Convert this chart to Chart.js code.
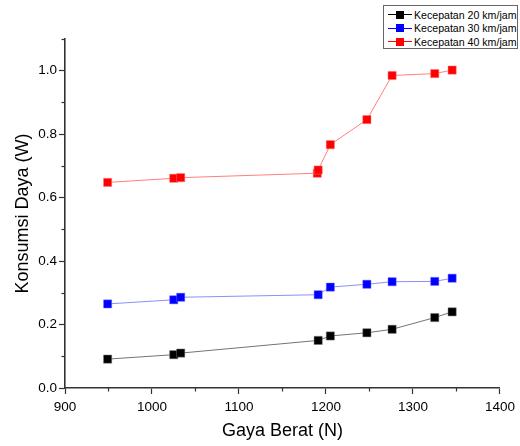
<!DOCTYPE html>
<html>
<head>
<meta charset="utf-8">
<script src="https://cdn.jsdelivr.net/npm/chart.js@4.4.0/dist/chart.umd.min.js"></script>
<style>
  html, body { margin: 0; padding: 0; background: #fff; }
  #wrap { position: relative; width: 520px; height: 446px; }
  #legend { position: absolute; left: 383px; top: 5px; width: 135px; height: 44px; border: 1px solid #666; background: #fff;
    font-family: "Liberation Sans", Arial, sans-serif; font-size: 10.6px; color: #000; padding: 2px 0 0 4px; box-sizing: border-box; white-space: nowrap; overflow: hidden; }
  .row { display: flex; align-items: center; height: 13.5px; }
  .sym { position: relative; width: 24px; height: 10px; margin-right: 2px; flex: none; }
  .sym .ln { position: absolute; left: 0; right: 0; top: 4.5px; height: 1px; }
  .sym .sq { position: absolute; left: 8px; top: 1px; width: 8px; height: 8px; }
</style>
</head>
<body>
<div id="wrap">
  <canvas id="c" width="520" height="446"></canvas>
  <div id="legend"></div>
</div>
<script>
const seriesLabels = ["Kecepatan 20 km/jam", "Kecepatan 30 km/jam", "Kecepatan 40 km/jam"];
const weights = [949, 1025, 1033, 1191, 1205, 1247, 1276, 1325, 1345];
const weights40 = [949, 1025, 1033, 1190, 1191, 1205, 1247, 1276, 1325, 1345];
const v20 = [0.091, 0.105, 0.110, 0.150, 0.164, 0.174, 0.185, 0.222, 0.240];
const v30 = [0.265, 0.278, 0.286, 0.294, 0.318, 0.327, 0.335, 0.336, 0.346];
const v40 = [0.648, 0.661, 0.663, 0.677, 0.687, 0.767, 0.846, 0.985, 0.991, 1.002];
const xTickLabels = ["900", "1000", "1100", "1200", "1300", "1400"];
const yTickLabels = ["0.0", "0.2", "0.4", "0.6", "0.8", "1.0"];

const markerColors = ["#000000", "#0000ff", "#ff0000"];
const lineColors = ["rgba(0,0,0,0.55)", "rgba(0,0,255,0.45)", "rgba(255,0,0,0.5)"];
const borderMarker = ["rgba(120,120,120,0.8)", "rgba(120,120,255,0.8)", "rgba(255,120,120,0.8)"];

function pts(xs, ys) { return xs.map((x, i) => ({ x: x, y: ys[i] })); }

const FONT = "'Liberation Sans', Arial, sans-serif";

const minorTicks = {
  id: 'minorTicks',
  afterDraw(chart) {
    const ctx = chart.ctx;
    const xs = chart.scales.x, ys = chart.scales.y;
    ctx.save();
    ctx.strokeStyle = '#333';
    ctx.lineWidth = 1.2;
    for (let v = 950; v < 1400; v += 100) {
      const px = Math.round(xs.getPixelForValue(v)) + 0.5;
      ctx.beginPath(); ctx.moveTo(px, ys.bottom); ctx.lineTo(px, ys.bottom + 3.5); ctx.stroke();
    }
    for (let v = 0.1; v < 1.1; v += 0.2) {
      const py = Math.round(ys.getPixelForValue(v)) + 0.5;
      ctx.beginPath(); ctx.moveTo(xs.left, py); ctx.lineTo(xs.left - 3.5, py); ctx.stroke();
    }
    ctx.restore();
  }
};

const data = {
  datasets: [
    { label: seriesLabels[0], data: pts(weights, v20) },
    { label: seriesLabels[1], data: pts(weights, v30) },
    { label: seriesLabels[2], data: pts(weights40, v40) }
  ].map((d, i) => Object.assign(d, {
    borderColor: lineColors[i],
    borderWidth: 1,
    backgroundColor: markerColors[i],
    pointBackgroundColor: markerColors[i],
    pointBorderColor: borderMarker[i],
    pointBorderWidth: 0.6,
    pointStyle: 'rect',
    pointRadius: 5.8,
    pointHoverRadius: 5.8,
    tension: 0,
    showLine: true,
    fill: false
  }))
};

new Chart(document.getElementById('c'), {
  type: 'scatter',
  data: data,
  plugins: [minorTicks],
  options: {
    responsive: false,
    animation: false,
    layout: { padding: { top: 39, right: 20, left: 8, bottom: 0 } },
    plugins: { legend: { display: false }, tooltip: { enabled: false } },
    scales: {
      x: {
        type: 'linear', min: 900, max: 1400,
        afterBuildTicks: s => { s.ticks = xTickLabels.map(t => ({ value: Number(t) })); },
        afterFit: s => { s.height = 58; },
        ticks: { color: '#000', font: { family: FONT, size: 13.5 }, padding: 5, maxRotation: 0,
          callback: v => xTickLabels.find(t => Number(t) === v) ?? '' },
        grid: { display: true, drawOnChartArea: false, drawTicks: true, tickLength: 6, tickColor: '#333', tickWidth: 1.2 },
        border: { display: true, color: '#333', width: 1.6 },
        title: { display: true, text: 'Gaya Berat (N)', color: '#000', font: { family: FONT, size: 18 }, padding: { top: 9 } }
      },
      y: {
        type: 'linear', min: 0, max: 1.1,
        afterBuildTicks: s => { s.ticks = yTickLabels.map(t => ({ value: Number(t) })); },
        afterFit: s => { s.width = 57; },
        ticks: { color: '#000', font: { family: FONT, size: 13.5 }, padding: 2,
          callback: v => yTickLabels.find(t => Math.abs(Number(t) - v) < 1e-9) ?? '' },
        grid: { display: true, drawOnChartArea: false, drawTicks: true, tickLength: 6, tickColor: '#333', tickWidth: 1.2 },
        border: { display: true, color: '#333', width: 1.6 },
        title: { display: true, text: 'Konsumsi Daya (W)', color: '#000', font: { family: FONT, size: 18 }, padding: { bottom: 2 } }
      }
    }
  }
});

const lg = document.getElementById('legend');
seriesLabels.forEach((lab, i) => {
  const row = document.createElement('div');
  row.className = 'row';
  row.innerHTML = '<span class="sym"><span class="ln" style="background:' + markerColors[i] + '"></span><span class="sq" style="background:' + markerColors[i] + '"></span></span><span>' + lab + '</span>';
  lg.appendChild(row);
});
</script>
</body>
</html>
